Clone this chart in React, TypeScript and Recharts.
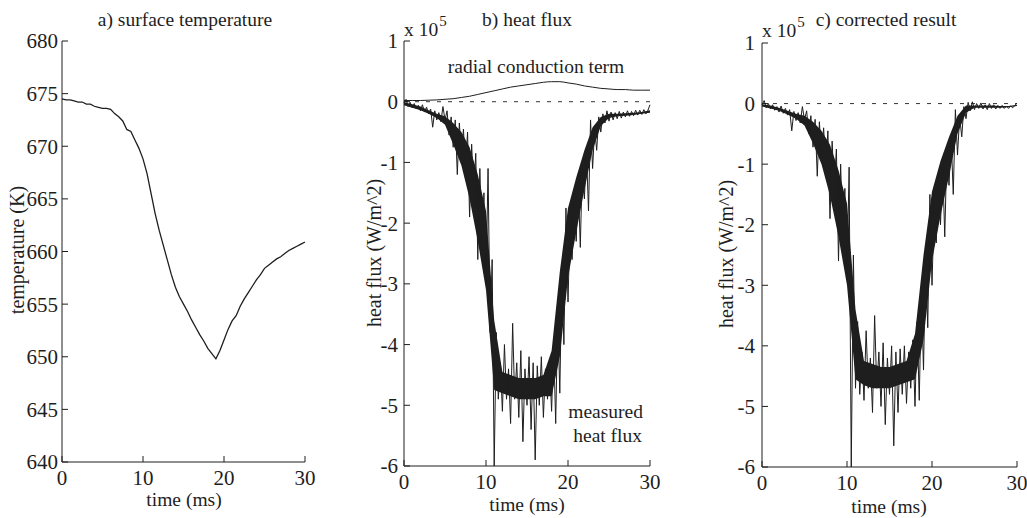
import React from 'react';
import { ComposedChart, LineChart, Line, Area, XAxis, YAxis, ReferenceLine } from 'recharts';

// a) surface temperature, K
const tempTime = [
  0, 0.5, 1, 1.5, 2, 2.5, 3, 3.5, 4, 4.5, 5, 5.5, 6, 6.5, 7, 7.5, 8, 8.5, 9, 9.5,
  10, 10.5, 11, 11.5, 12, 12.5, 13, 13.5, 14, 14.5, 15, 15.5, 16, 16.5, 17, 17.5, 18, 18.5, 19, 19.5,
  20, 20.5, 21, 21.5, 22, 22.5, 23, 23.5, 24, 24.5, 25, 25.5, 26, 26.5, 27, 27.5, 28, 28.5, 29, 29.5, 30,
];
const surfaceTemp = [
  674.5, 674.4, 674.4, 674.3, 674.2, 674.2, 674.0, 674.0, 673.8, 673.7, 673.6, 673.6, 673.5, 673.1, 672.8, 672.4, 671.6, 671.4, 670.6, 669.8,
  668.8, 667.4, 665.5, 663.6, 662.0, 660.6, 659.2, 657.8, 656.6, 655.7, 655.0, 654.3, 653.5, 652.8, 652.1, 651.5, 650.8, 650.3, 649.8, 650.6,
  651.6, 652.6, 653.4, 653.9, 654.8, 655.5, 656.1, 656.7, 657.3, 657.8, 658.4, 658.7, 659.0, 659.3, 659.5, 659.8, 660.1, 660.3, 660.5, 660.7, 660.9,
];

// b) and c) heat flux, x 10^5 W/m^2
const fluxTime = [
  0, 0.25, 0.5, 0.75, 1, 1.25, 1.5, 1.75, 2, 2.25, 2.5, 2.75, 3, 3.25, 3.5, 3.75, 4, 4.25, 4.5, 4.75,
  5, 5.25, 5.5, 5.75, 6, 6.25, 6.5, 6.75, 7, 7.25, 7.5, 7.75, 8, 8.25, 8.5, 8.75, 9, 9.25, 9.5, 9.75,
  10, 10.25, 10.5, 10.75, 11, 11.25, 11.5, 11.75, 12, 12.25, 12.5, 12.75, 13, 13.25, 13.5, 13.75, 14, 14.25, 14.5, 14.75,
  15, 15.25, 15.5, 15.75, 16, 16.25, 16.5, 16.75, 17, 17.25, 17.5, 17.75, 18, 18.25, 18.5, 18.75, 19, 19.25, 19.5, 19.75,
  20, 20.25, 20.5, 20.75, 21, 21.25, 21.5, 21.75, 22, 22.25, 22.5, 22.75, 23, 23.25, 23.5, 23.75, 24, 24.25, 24.5, 24.75,
  25, 25.25, 25.5, 25.75, 26, 26.25, 26.5, 26.75, 27, 27.25, 27.5, 27.75, 28, 28.25, 28.5, 28.75, 29, 29.25, 29.5, 29.75, 30,
];
const measuredFlux = [
  -0.02, 0.04, -0.08, -0.01, -0.1, -0.03, -0.12, -0.06, -0.15, -0.05, -0.17, -0.09, -0.2, -0.12, -0.42, -0.15, -0.3, -0.18, -0.33, -0.08,
  -0.3, -0.15, -0.55, -0.25, -0.75, -0.3, -1.2, -0.35, -0.9, -0.45, -1.1, -0.5, -1.9, -0.7, -1.5, -0.85, -2.6, -1.1, -2.3, -1.5,
  -3.0, -1.1, -3.8, -2.6, -6.0, -3.8, -4.9, -4.3, -5.1, -4.0, -4.9, -4.4, -5.3, -3.65, -4.9, -4.3, -5.2, -4.1, -5.6, -4.4,
  -5.0, -4.2, -5.4, -4.3, -5.9, -4.35, -5.0, -4.2, -5.2, -4.4, -4.9, -4.3, -5.1, -4.0, -5.3, -3.5, -4.8, -2.8, -4.0, -1.75,
  -3.3, -2.0, -2.6, -1.5, -2.3, -1.3, -2.4, -1.0, -1.6, -0.8, -1.8, -0.3, -1.1, -0.45, -0.8, -0.25, -0.5, -0.2, -0.35, -0.15,
  -0.32, -0.17, -0.3, -0.18, -0.28, -0.16, -0.27, -0.17, -0.25, -0.15, -0.24, -0.16, -0.23, -0.14, -0.22, -0.14, -0.21, -0.13, -0.2, -0.14, -0.05,
];
const correctedFlux = [
  -0.02, 0.05, -0.07, 0.0, -0.09, -0.02, -0.11, -0.05, -0.14, -0.04, -0.16, -0.08, -0.19, -0.1, -0.45, -0.13, -0.28, -0.15, -0.32, -0.05,
  -0.27, -0.12, -0.5, -0.2, -0.72, -0.26, -1.2, -0.3, -0.85, -0.4, -1.05, -0.45, -1.9, -0.62, -1.4, -0.75, -2.6, -1.0, -2.2, -1.4,
  -2.9, -1.05, -6.0, -2.5, -4.7, -3.6, -4.8, -4.1, -4.9, -3.75, -4.7, -4.2, -5.1, -3.5, -4.7, -4.1, -5.0, -3.95, -5.3, -4.2,
  -4.8, -4.0, -5.65, -4.1, -5.1, -4.05, -4.8, -4.0, -4.95, -4.1, -4.7, -3.9, -5.0, -3.6, -4.9, -3.1, -4.4, -2.5, -3.7, -1.5,
  -3.0, -1.7, -2.3, -1.25, -2.0, -1.0, -2.2, -0.75, -1.35, -0.55, -1.5, -0.1, -0.85, -0.22, -0.55, -0.05, -0.25, 0.02, -0.12, 0.03,
  -0.1, 0.0, -0.08, 0.01, -0.09, -0.02, -0.1, 0.0, -0.08, -0.02, -0.09, -0.03, -0.08, -0.03, -0.08, -0.04, -0.08, -0.04, -0.07, -0.03, 0.01,
];

// dense core of the noisy signal + radial term, every 1 ms
const bandTime = [0, 1, 2, 3, 4, 5, 6, 7, 8, 9, 10, 11, 12, 13, 14, 15, 16, 17, 18, 19, 20, 21, 22, 23, 24, 25, 26, 27, 28, 29, 30];
const bandLoB = [-0.06, -0.1, -0.14, -0.2, -0.27, -0.38, -0.7, -1.05, -1.6, -2.3, -3.1, -4.75, -4.8, -4.85, -4.9, -4.9, -4.9, -4.85, -4.85, -4.2, -2.9, -2.15, -1.45, -0.8, -0.4, -0.27, -0.24, -0.23, -0.22, -0.2, -0.18];
const bandHiB = [-0.01, -0.04, -0.08, -0.14, -0.2, -0.24, -0.35, -0.5, -0.75, -1.2, -1.8, -3.6, -4.45, -4.5, -4.55, -4.55, -4.55, -4.5, -4.1, -2.8, -1.75, -1.25, -0.8, -0.42, -0.25, -0.2, -0.2, -0.19, -0.18, -0.17, -0.14];
const bandLoC = [-0.05, -0.08, -0.12, -0.18, -0.25, -0.36, -0.66, -1.0, -1.52, -2.2, -3.0, -4.55, -4.65, -4.7, -4.7, -4.7, -4.65, -4.6, -4.55, -3.9, -2.6, -1.85, -1.2, -0.5, -0.15, -0.07, -0.07, -0.07, -0.07, -0.06, -0.04];
const bandHiC = [-0.01, -0.03, -0.07, -0.12, -0.17, -0.2, -0.3, -0.45, -0.68, -1.1, -1.65, -3.4, -4.25, -4.3, -4.35, -4.35, -4.3, -4.25, -3.8, -2.5, -1.45, -0.95, -0.55, -0.2, -0.03, -0.03, -0.03, -0.03, -0.04, -0.04, -0.02];
const radialTerm = [0.02, 0.02, 0.02, 0.025, 0.03, 0.04, 0.05, 0.07, 0.09, 0.12, 0.15, 0.18, 0.21, 0.24, 0.26, 0.28, 0.3, 0.32, 0.33, 0.33, 0.31, 0.29, 0.26, 0.24, 0.22, 0.21, 0.2, 0.2, 0.19, 0.19, 0.19];

const timeTicks = [0, 10, 20, 30];
const tempTicks = [640, 645, 650, 655, 660, 665, 670, 675, 680];
const fluxTicks = [-6, -5, -4, -3, -2, -1, 0, 1];

const FONT = '"Liberation Serif", "DejaVu Serif", serif';
const INK = '#1e1e1e';

const tempData = tempTime.map((t, i) => ({ t, temp: surfaceTemp[i] }));

function buildFlux(values: number[], lo: number[], hi: number[], withRadial: boolean) {
  return fluxTime.map((t, i) => {
    const j = bandTime.indexOf(t);
    return {
      t,
      v: values[i],
      band: j >= 0 ? [lo[j], hi[j]] : undefined,
      radial: withRadial && j >= 0 ? radialTerm[j] : undefined,
    };
  });
}
const fluxDataB = buildFlux(measuredFlux, bandLoB, bandHiB, true);
const fluxDataC = buildFlux(correctedFlux, bandLoC, bandHiC, false);

const tickFont = { fill: INK, fontSize: 21, fontFamily: FONT };

function Txt({ x, y, children, size = 19.5, anchor = 'center' }: { x: number; y: number; children: React.ReactNode; size?: number; anchor?: string }) {
  const tx = anchor === 'center' ? '-50%' : anchor === 'right' ? '-100%' : '0';
  return (
    <div
      style={{
        position: 'absolute',
        left: x,
        top: y,
        transform: `translate(${tx}, -50%)`,
        fontFamily: FONT,
        fontSize: size,
        color: INK,
        whiteSpace: 'nowrap',
        lineHeight: 1,
      }}
    >
      {children}
    </div>
  );
}

function VTxt({ x, y, children }: { x: number; y: number; children: React.ReactNode }) {
  return (
    <div
      style={{
        position: 'absolute',
        left: x,
        top: y,
        transform: 'translate(-50%, -50%) rotate(-90deg)',
        fontFamily: FONT,
        fontSize: 20,
        color: INK,
        whiteSpace: 'nowrap',
        lineHeight: 1,
      }}
    >
      {children}
    </div>
  );
}

// four-sided frame with inward ticks, MATLAB style
function frameAxes(yDomain: [number, number], yTicks: number[], xHeight: number, yWidth: number, yGap: number) {
  return [
    <XAxis
      key="xb"
      xAxisId="b"
      dataKey="t"
      type="number"
      domain={[0, 30]}
      ticks={timeTicks}
      interval={0}
      height={xHeight}
      stroke={INK}
      tickSize={-6}
      tickMargin={14}
      tick={tickFont}
    />,
    <XAxis
      key="xt"
      xAxisId="t"
      orientation="top"
      type="number"
      domain={[0, 30]}
      ticks={timeTicks}
      height={0}
      stroke={INK}
      tickSize={-6}
      tick={false}
    />,
    <YAxis
      key="yl"
      yAxisId="l"
      type="number"
      domain={yDomain}
      ticks={yTicks}
      interval={0}
      width={yWidth}
      stroke={INK}
      tickSize={-6}
      tickMargin={6 + yGap}
      tick={tickFont}
    />,
    <YAxis
      key="yr"
      yAxisId="r"
      orientation="right"
      type="number"
      domain={yDomain}
      ticks={yTicks}
      width={0}
      stroke={INK}
      tickSize={-6}
      tick={false}
    />,
  ];
}

function Superscript() {
  return (
    <>
      x 10<span style={{ fontSize: 15, position: 'relative', top: -10, left: 1 }}>5</span>
    </>
  );
}

export default function App() {
  return (
    <div style={{ position: 'fixed', left: 0, top: 0, width: 1027, height: 518, background: '#fff', overflow: 'hidden' }}>
      {/* a) surface temperature */}
      <div style={{ position: 'absolute', left: 0, top: 0 }}>
        <LineChart width={320} height={518} data={tempData} margin={{ top: 41, right: 15, bottom: 0, left: 0 }}>
          {frameAxes([640, 680], tempTicks, 56, 62, 4)}
          <Line xAxisId="b" yAxisId="l" type="linear" dataKey="temp" stroke={INK} strokeWidth={1.3} dot={false} isAnimationActive={false} />
        </LineChart>
      </div>

      {/* b) heat flux */}
      <div style={{ position: 'absolute', left: 330, top: 0 }}>
        <ComposedChart width={335} height={518} data={fluxDataB} margin={{ top: 41, right: 15, bottom: 0, left: 0 }}>
          {frameAxes([-6, 1], fluxTicks, 52, 74, 6)}
          <ReferenceLine xAxisId="b" yAxisId="l" y={0} stroke={INK} strokeWidth={0.9} strokeDasharray="4 7" />
          <Area xAxisId="b" yAxisId="l" type="linear" dataKey="band" fill={INK} fillOpacity={1} stroke="none" connectNulls isAnimationActive={false} />
          <Line xAxisId="b" yAxisId="l" type="linear" dataKey="v" stroke={INK} strokeWidth={1} dot={false} isAnimationActive={false} />
          <Line xAxisId="b" yAxisId="l" type="monotone" dataKey="radial" stroke={INK} strokeWidth={1} dot={false} connectNulls isAnimationActive={false} />
        </ComposedChart>
      </div>

      {/* c) corrected result */}
      <div style={{ position: 'absolute', left: 680, top: 0 }}>
        <ComposedChart width={347} height={518} data={fluxDataC} margin={{ top: 43, right: 10, bottom: 0, left: 0 }}>
          {frameAxes([-6, 1], fluxTicks, 51, 82, 7)}
          <ReferenceLine xAxisId="b" yAxisId="l" y={0} stroke={INK} strokeWidth={0.9} strokeDasharray="4 7" />
          <Area xAxisId="b" yAxisId="l" type="linear" dataKey="band" fill={INK} fillOpacity={1} stroke="none" connectNulls isAnimationActive={false} />
          <Line xAxisId="b" yAxisId="l" type="linear" dataKey="v" stroke={INK} strokeWidth={1} dot={false} isAnimationActive={false} />
        </ComposedChart>
      </div>

      <Txt x={185} y={20}>a) surface temperature</Txt>
      <Txt x={527} y={20}>b) heat flux</Txt>
      <Txt x={886} y={20}>c) corrected result</Txt>
      <Txt x={404} y={30} anchor="left"><Superscript /></Txt>
      <Txt x={762} y={31} anchor="left"><Superscript /></Txt>

      <Txt x={536} y={67}>radial conduction term</Txt>
      <Txt x={643} y={412} anchor="right">measured</Txt>
      <Txt x={642} y={436} anchor="right">heat flux</Txt>

      <Txt x={184} y={500}>time (ms)</Txt>
      <Txt x={527} y={505}>time (ms)</Txt>
      <Txt x={889} y={507}>time (ms)</Txt>

      <VTxt x={17} y={250}>temperature (K)</VTxt>
      <VTxt x={374} y={253}>heat flux (W/m^2)</VTxt>
      <VTxt x={726} y={254}>heat flux (W/m^2)</VTxt>
    </div>
  );
}
